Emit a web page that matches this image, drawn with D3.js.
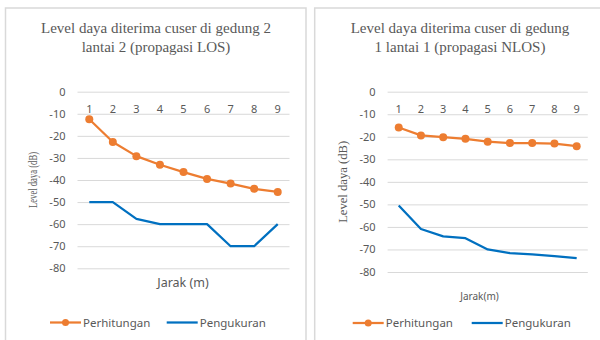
<!DOCTYPE html>
<html lang="id">
<head>
    <meta charset="UTF-8">
    <script src="https://d3js.org/d3.v7.min.js"></script>
    <style>
        body{ margin:0; background:#fff; }
        text{ fill:#595959; }
    </style>
    <title>Level daya</title>
</head>
<body>
    <div class="canvas"></div>
</body>
<script>
    const width = 600;
    const height = 340;

    // data
    const jarak = ['1','2','3','4','5','6','7','8','9'];
    const yTicks = [0,-10,-20,-30,-40,-50,-60,-70,-80];
    const losPerhitungan = [-12.5,-22.8,-29.2,-33.1,-36.4,-39.5,-41.6,-44,-45.4];
    const losPengukuran = [-50,-50,-57.6,-60,-60,-60,-70,-70,-60];
    const nlosPerhitungan = [-15.9,-19.4,-20.2,-20.9,-22.2,-22.8,-22.8,-23,-24.2];
    const nlosPengukuran = [-50.5,-60.9,-64.2,-65,-70,-71.6,-72.2,-73,-73.8];

    const orange = '#ED7D31';
    const blue = '#0070C0';
    const grid = '#d9d9d9';

    const svg = d3.select('.canvas')
                    .append('svg')
                    .attr('width',width)
                    .attr('height',height);

    const charts = [
        {
            box:[5.5,8,300.5,340], title:['Level daya diterima cuser di gedung 2','lantai 2 (propagasi LOS)'],
            titleX:156, plot:[77.5,289.5,91.7,268.3], ylabX:33, ylabLen:56,
            xlab:'Jarak (m)', xlabPos:[183,287], xlabSize:12.5,
            legend:[50,166.7,322.5], a:losPerhitungan, b:losPengukuran
        },
        {
            box:[314.7,8,300,340], title:['Level daya diterima cuser di gedung','1 lantai 1 (propagasi NLOS)'],
            titleX:460, plot:[387.6,587.8,91.7,272], ylabX:343, ylabLen:82,
            xlab:'Jarak(m)', xlabPos:[479.5,300], xlabSize:10,
            legend:[352.7,471.7,323], a:nlosPerhitungan, b:nlosPengukuran
        }
    ];

    charts.forEach(c=>{
        svg.append('rect')
            .attr('x',c.box[0]).attr('y',c.box[1])
            .attr('width',c.box[2]).attr('height',c.box[3])
            .attr('fill','none').attr('stroke',grid).attr('stroke-width',1.5);

        svg.append('text')
            .attr('x',c.titleX).attr('y',33)
            .attr('text-anchor','middle')
            .style('font-family','"Liberation Serif", serif').style('font-size','15px')
            .text(c.title[0]);
        svg.append('text')
            .attr('x',c.titleX).attr('y',52)
            .attr('text-anchor','middle')
            .style('font-family','"Liberation Serif", serif').style('font-size','15px')
            .text(c.title[1]);

        const [x0,x1,y0,y1] = c.plot;
        const x = d3.scaleBand().domain(jarak).range([x0,x1]);
        const y = d3.scaleLinear().domain([0,-80]).range([y0,y1]);
        const cx = d => x(d) + x.bandwidth()/2;

        const yAxisG = svg.append('g')
                        .attr('transform',`translate(${x0},0)`)
                        .call(d3.axisLeft(y).tickValues(yTicks).tickFormat(d=>String(d))
                                .tickSize(-(x1-x0)).tickPadding(12));
        yAxisG.select('.domain').remove();
        yAxisG.selectAll('line').attr('stroke',grid);
        yAxisG.selectAll('text')
            .attr('fill','#595959')
            .style('font-family','"Noto Sans", sans-serif').style('font-size','11px');

        const xAxisG = svg.append('g')
                        .attr('transform',`translate(0,${y(-10)})`)
                        .call(d3.axisTop(x).tickSize(0).tickPadding(1));
        xAxisG.select('.domain').remove();
        xAxisG.selectAll('text')
            .attr('fill','#595959')
            .style('font-family','"Noto Sans", sans-serif').style('font-size','11px');

        svg.append('text')
            .attr('transform',`translate(${c.ylabX+4},${(y0+y1)/2}) rotate(-90)`)
            .attr('text-anchor','middle')
            .attr('textLength',c.ylabLen).attr('lengthAdjust','spacingAndGlyphs')
            .style('font-family','"Liberation Serif", serif').style('font-size','12px')
            .text('Level daya (dB)');

        svg.append('text')
            .attr('x',c.xlabPos[0]).attr('y',c.xlabPos[1])
            .attr('text-anchor','middle')
            .style('font-family','"Noto Sans", sans-serif').style('font-size',c.xlabSize+'px')
            .text(c.xlab);

        const line = d3.line()
                        .x((d,i)=>cx(jarak[i]))
                        .y(d=>y(d));

        svg.append('path')
            .attr('d',line(c.b))
            .attr('fill','none').attr('stroke',blue).attr('stroke-width',2.25)
            .attr('stroke-linejoin','round');

        svg.append('path')
            .attr('d',line(c.a))
            .attr('fill','none').attr('stroke',orange).attr('stroke-width',2.25)
            .attr('stroke-linejoin','round');

        svg.append('g').selectAll('circle')
            .data(c.a)
            .enter()
            .append('circle')
            .attr('cx',(d,i)=>cx(jarak[i]))
            .attr('cy',d=>y(d))
            .attr('r',4)
            .attr('fill',orange);

        // legend
        const [lx1,lx2,ly] = c.legend;
        svg.append('line')
            .attr('x1',lx1).attr('x2',lx1+31).attr('y1',ly).attr('y2',ly)
            .attr('stroke',orange).attr('stroke-width',2.25);
        svg.append('circle')
            .attr('cx',lx1+15.5).attr('cy',ly).attr('r',3.5).attr('fill',orange);
        svg.append('text')
            .attr('x',lx1+33).attr('y',ly+4)
            .style('font-family','"Noto Sans", sans-serif').style('font-size','11.5px')
            .text('Perhitungan');
        svg.append('line')
            .attr('x1',lx2).attr('x2',lx2+31).attr('y1',ly).attr('y2',ly)
            .attr('stroke',blue).attr('stroke-width',2.25);
        svg.append('text')
            .attr('x',lx2+33).attr('y',ly+4)
            .style('font-family','"Noto Sans", sans-serif').style('font-size','11.5px')
            .text('Pengukuran');
    });
</script>
</html>
